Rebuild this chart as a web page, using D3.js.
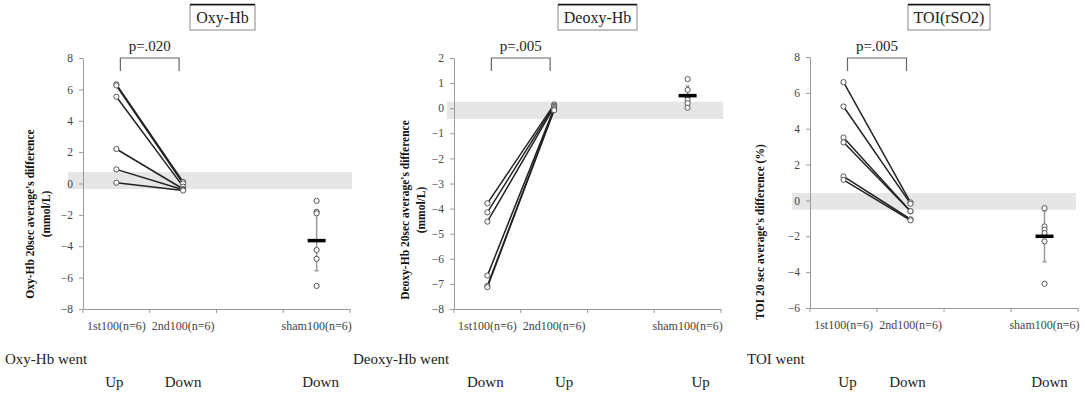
<!DOCTYPE html>
<html>
<head>
<meta charset="utf-8">
<script src="https://cdn.jsdelivr.net/npm/d3@7"></script>
<style>
  body { margin: 0; background: #fff; }
  svg text { font-family: "Liberation Serif", "DejaVu Serif", serif !important; }
</style>
</head>
<body>
<svg width="1085" height="394"></svg>
<script>
// categories on every x axis ('gap' is the empty slot before sham)
const categories = ['1st100(n=6)', '2nd100(n=6)', 'gap', 'sham100(n=6)']

// Oxy-Hb
const oxyFirst = [6.32, 6.25, 5.53, 2.2, 0.9, 0.05]
const oxySecond = [0.1, 0.0, -0.2, -0.35, -0.4, -0.45]
const oxySham = [-1.11, -1.8, -1.9, -4.24, -4.8, -6.53]
const oxyShamMean = -3.64
const oxyShamSd = 1.92
const oxyBand = [-0.35, 0.73]
const oxyTicks = [-8, -6, -4, -2, 0, 2, 4, 6, 8]
const oxyWent = ['Up', 'Down', 'Down']

// Deoxy-Hb
const deoxyFirst = [-3.79, -4.15, -4.52, -6.67, -7.08, -7.13]
const deoxySecond = [0.15, 0.1, 0.05, 0.0, -0.05, -0.08]
const deoxySham = [1.16, 0.73, 0.46, 0.33, 0.2, 0.02]
const deoxyShamMean = 0.5
const deoxyShamSd = 0.38
const deoxyBand = [-0.43, 0.26]
const deoxyTicks = [-8, -7, -6, -5, -4, -3, -2, -1, 0, 1, 2]
const deoxyWent = ['Down', 'Up', 'Up']

// TOI
const toiFirst = [6.6, 5.24, 3.51, 3.24, 1.34, 1.15]
const toiSecond = [-0.11, -0.18, -0.61, -0.6, -1.05, -1.11]
const toiSham = [-0.43, -1.45, -1.63, -1.82, -2.28, -4.65]
const toiShamMean = -2.0
const toiShamSd = 1.42
const toiBand = [-0.52, 0.41]
const toiTicks = [-6, -4, -2, 0, 2, 4, 6, 8]
const toiWent = ['Up', 'Down', 'Down']

const panels = [
  {
    title: 'Oxy-Hb', p: 'p=.020', first: oxyFirst, second: oxySecond, sham: oxySham,
    mean: oxyShamMean, sd: oxyShamSd, band: oxyBand, ticks: oxyTicks, went: oxyWent,
    wentLabel: 'Oxy-Hb went', yTitle: ["Oxy-Hb 20sec average's difference", '(mmol/L)'],
    x0: 83, x1: 350, y0: 309, y1: 58, bandX: [68, 352], titleBox: [190, 255],
    yTitleX: 30, yTitleY: 214, wentX: 5, wentShift: [-2, 0, 4]
  },
  {
    title: 'Deoxy-Hb', p: 'p=.005', first: deoxyFirst, second: deoxySecond, sham: deoxySham,
    mean: deoxyShamMean, sd: deoxyShamSd, band: deoxyBand, ticks: deoxyTicks, went: deoxyWent,
    wentLabel: 'Deoxy-Hb went', yTitle: ["Deoxy-Hb 20sec average's difference", '(mmol/L)'],
    x0: 454, x1: 721, y0: 309, y1: 58, bandX: [447, 723], titleBox: [558, 637],
    yTitleX: 405, yTitleY: 210, wentX: 353, wentShift: [-2, 10, 13]
  },
  {
    title: 'TOI(rSO2)', p: 'p=.005', first: toiFirst, second: toiSecond, sham: toiSham,
    mean: toiShamMean, sd: toiShamSd, band: toiBand, ticks: toiTicks, went: toiWent,
    wentLabel: 'TOI went', yTitle: ["TOI 20 sec average's difference (%)"],
    x0: 810, x1: 1078, y0: 308, y1: 57, bandX: [792, 1076], titleBox: [908, 990],
    yTitleX: 760, yTitleY: 232, wentX: 747, wentShift: [4, -3, 5]
  }
]

const svg = d3.select('svg')

panels.forEach(cfg => {
  const g = svg.append('g')

  const x = d3.scaleBand().domain(categories).range([cfg.x0, cfg.x1]).padding(0)
  const y = d3.scaleLinear()
    .domain(d3.extent(cfg.ticks))
    .range([cfg.y0, cfg.y1])
  const cx = c => x(c) + x.bandwidth() / 2

  // grey reference band
  g.append('rect')
    .attr('x', cfg.bandX[0])
    .attr('width', cfg.bandX[1] - cfg.bandX[0])
    .attr('y', y(cfg.band[1]))
    .attr('height', y(cfg.band[0]) - y(cfg.band[1]))
    .attr('fill', '#e6e6e6')

  // y axis
  const yAxis = g.append('g')
    .attr('transform', `translate(${cfg.x0},0)`)
    .call(d3.axisLeft(y).tickValues(cfg.ticks).tickSize(4).tickSizeOuter(0).tickPadding(6))
  yAxis.selectAll('path, line').attr('stroke', '#9a9a9a')
  yAxis.selectAll('text')
    .attr('font-size', 11.5).attr('fill', '#444')

  // x axis: labels at band centres, ticks at band edges
  const xAxis = g.append('g')
    .attr('transform', `translate(0,${cfg.y0})`)
    .call(d3.axisBottom(x).tickSize(0).tickPadding(12))
  xAxis.select('.domain').attr('stroke', '#9a9a9a')
  xAxis.selectAll('.tick').filter(d => d === 'gap').remove()
  xAxis.selectAll('text')
    .attr('font-size', 12).attr('fill', '#444')
  xAxis.selectAll('line.edge')
    .data(categories.map(c => x(c)).concat([cfg.x1]))
    .join('line')
    .attr('class', 'edge')
    .attr('x1', d => d).attr('x2', d => d)
    .attr('y1', 0).attr('y2', 4)
    .attr('stroke', '#9a9a9a')

  // paired lines
  const pairs = cfg.first.map((v, i) => [v, cfg.second[i]])
  g.selectAll('line.pair')
    .data(pairs)
    .join('line')
    .attr('class', 'pair')
    .attr('x1', cx(categories[0]))
    .attr('x2', cx(categories[1]))
    .attr('y1', d => y(d[0]))
    .attr('y2', d => y(d[1]))
    .attr('stroke', '#222')
    .attr('stroke-width', 1.5)

  // sham error bar
  const sx = cx(categories[3])
  g.append('line')
    .attr('x1', sx).attr('x2', sx)
    .attr('y1', y(cfg.mean + cfg.sd)).attr('y2', y(cfg.mean - cfg.sd))
    .attr('stroke', '#999').attr('stroke-width', 1.5)
  g.selectAll('line.cap')
    .data([cfg.mean + cfg.sd, cfg.mean - cfg.sd])
    .join('line')
    .attr('class', 'cap')
    .attr('x1', sx - 2).attr('x2', sx + 2)
    .attr('y1', d => y(d)).attr('y2', d => y(d))
    .attr('stroke', '#999').attr('stroke-width', 1.5)

  // points
  const pts = []
  cfg.first.forEach(v => pts.push([categories[0], v]))
  cfg.second.forEach(v => pts.push([categories[1], v]))
  cfg.sham.forEach(v => pts.push([categories[3], v]))
  g.selectAll('circle')
    .data(pts)
    .join('circle')
    .attr('cx', d => cx(d[0]))
    .attr('cy', d => y(d[1]))
    .attr('r', 2.6)
    .attr('fill', '#fff')
    .attr('stroke', '#555')
    .attr('stroke-width', 1)

  // sham mean bar
  g.append('line')
    .attr('x1', sx - 9).attr('x2', sx + 9)
    .attr('y1', y(cfg.mean)).attr('y2', y(cfg.mean))
    .attr('stroke', '#000').attr('stroke-width', 3.5)

  // significance bracket
  const bx0 = cx(categories[0]) + 4
  const bx1 = cx(categories[1]) - 4
  g.append('path')
    .attr('d', `M${bx0},71V58H${bx1}V71`)
    .attr('fill', 'none').attr('stroke', '#666').attr('stroke-width', 1.2)
  g.append('text')
    .attr('x', (bx0 + bx1) / 2).attr('y', 51)
    .attr('text-anchor', 'middle')
    .attr('font-size', 15).attr('fill', '#222')
    .text(cfg.p)

  // title box
  const [t0, t1] = cfg.titleBox
  g.append('rect')
    .attr('x', t0).attr('y', 5).attr('width', t1 - t0).attr('height', 25)
    .attr('fill', '#fff').attr('stroke', '#888')
  g.append('line')
    .attr('x1', t0).attr('x2', t1).attr('y1', 4.5).attr('y2', 4.5)
    .attr('stroke', '#111').attr('stroke-width', 1.5)
  g.append('text')
    .attr('x', (t0 + t1) / 2).attr('y', 23)
    .attr('text-anchor', 'middle')
    .attr('font-size', 16).attr('fill', '#222')
    .text(cfg.title)

  // rotated y title
  const yt = g.append('text')
    .attr('transform', `translate(${cfg.yTitleX},${cfg.yTitleY}) rotate(-90)`)
    .attr('text-anchor', 'middle')
    .attr('font-size', 11.5).attr('font-weight', 'bold').attr('fill', '#111')
  yt.selectAll('tspan')
    .data(cfg.yTitle)
    .join('tspan')
    .attr('x', 0)
    .attr('dy', (d, i) => i === 0 ? '0.35em' : '1.4em')
    .text(d => d)

  // "went" rows
  g.append('text')
    .attr('x', cfg.wentX).attr('y', 364)
    .attr('font-size', 15).attr('fill', '#222')
    .text(cfg.wentLabel)
  g.selectAll('text.went')
    .data(cfg.went)
    .join('text')
    .attr('class', 'went')
    .attr('x', (d, i) => cx(categories[i === 2 ? 3 : i]) + cfg.wentShift[i])
    .attr('y', 387)
    .attr('text-anchor', 'middle')
    .attr('font-size', 15).attr('fill', '#222')
    .text(d => d)
})
</script>
</body>
</html>
